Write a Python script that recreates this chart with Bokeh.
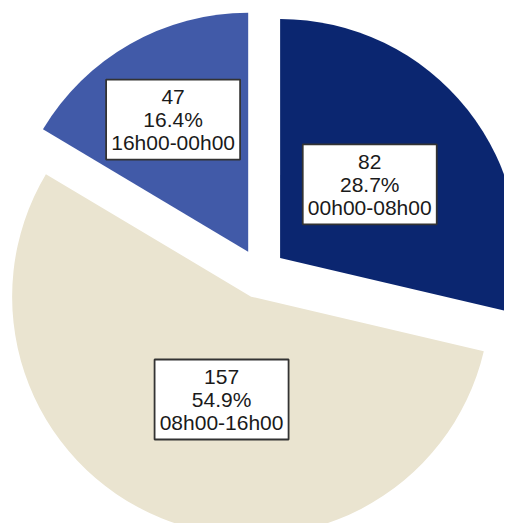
import numpy as np
from bokeh.plotting import figure
from bokeh.models import Range1d, ColumnDataSource
from bokeh.core.properties import value
from bokeh.embed import file_html
from bokeh.resources import INLINE

# ---- data ----
periods = ["00h00-08h00", "08h00-16h00", "16h00-00h00"]
counts = [82, 157, 47]
colors = ["#0B2670", "#EAE4D0", "#415AA8"]

# ---- layout ----
W, H = 504, 523
CX, CY = 260.0, 258.0      # pie centre (data units = pixels)
R = 239.0                  # radius
EXPLODE = 25.0             # explode distance of every slice
LABEL_DIST = [116.0, 107.0, 152.0]   # label distance from slice apex
LABEL_DANG = [-1.0, -6.0, 0.0]       # label angle tweak (degrees)
BOX_W, BOX_H = 134, 80

counts_a = np.array(counts, dtype=float)
total = counts_a.sum()
frac = counts_a / total
# clockwise angles from 12 o'clock
theta_end = np.cumsum(frac) * 2 * np.pi
theta_start = theta_end - frac * 2 * np.pi
theta_mid = (theta_start + theta_end) / 2

# convert to bokeh (counter-clockwise from +x)
start = np.pi / 2 - theta_end
end = np.pi / 2 - theta_start

ax = CX + EXPLODE * np.sin(theta_mid)
ay = CY + EXPLODE * np.cos(theta_mid)

lab_ang = theta_mid + np.radians(LABEL_DANG)
lx = ax + np.array(LABEL_DIST) * np.sin(lab_ang)
ly = ay + np.array(LABEL_DIST) * np.cos(lab_ang)

texts = [f"{c}\n{100 * c / total:.1f}%\n{p}" for c, p in zip(counts, periods)]

src = ColumnDataSource(dict(x=ax, y=ay, start=start, end=end, color=colors,
                            lx=lx, ly=ly, text=texts))

p = figure(width=W, height=H, x_range=Range1d(0, 504), y_range=Range1d(8, 531),
           output_backend="svg", toolbar_location=None, min_border=0,
           x_axis_type=None, y_axis_type=None)
p.grid.visible = False
p.outline_line_color = None
p.background_fill_color = "white"
p.border_fill_color = "white"

p.wedge(x="x", y="y", radius=R, start_angle="start", end_angle="end",
        fill_color="color", line_color=None, source=src)

p.rect(x="lx", y="ly", width=BOX_W, height=BOX_H, fill_color="white",
       line_color="#333333", line_width=1.8, source=src)

p.text(x="lx", y="ly", text="text", text_align="center", text_baseline="middle",
       text_font=value("Liberation Sans"), text_font_size="21px",
       text_line_height=1.0, text_color="#1a1a1a", source=src)

open("out.html", "w").write(file_html(p, INLINE))
